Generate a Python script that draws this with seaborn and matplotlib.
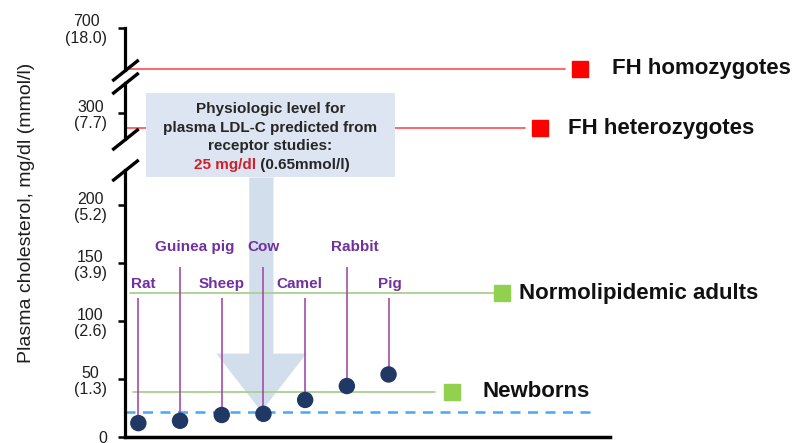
import numpy as np
import pandas as pd
import matplotlib
matplotlib.use("Agg")
import matplotlib.pyplot as plt
from matplotlib.patches import Rectangle, FancyArrow
import seaborn as sns

sns.set_style("white")
plt.rcParams['font.family'] = ['Liberation Sans', 'DejaVu Sans']

# plasma cholesterol of species, mg/dl
animals = ["Rat", "Guinea pig", "Sheep", "Cow", "Camel", "Rabbit", "Pig"]
cholesterol = [12, 14, 19, 20, 32, 44, 54]

# reference levels, mg/dl
fh_homo = 600
fh_hetero = 287
normo_adults = 124
newborns = 39
physiologic = 22

low_ticks = [0, 50, 100, 150, 200]
low_ticklabels = ["0", "50\n(1.3)", "100\n(2.6)", "150\n(3.9)", "200\n(5.2)"]
mid_ticks = [300]
mid_ticklabels = ["300\n(7.7)"]
top_ticks = [700]
top_ticklabels = ["700\n(18.0)"]

box_lines = ["Physiologic level for", "plasma LDL-C predicted from", "receptor studies:"]
box_red = "25 mg/dl"
box_rest = " (0.65mmol/l)"

W, H = 797, 443
def fbox(x0, y0, x1, y1):
  return [x0 / W, 1 - y1 / H, (x1 - x0) / W, (y1 - y0) / H]

fig = plt.figure(figsize=(W / 100, H / 100), dpi=100)
ax_top = fig.add_axes(fbox(125, 28, 610, 70))
ax_mid = fig.add_axes(fbox(125, 83, 610, 139))
ax_low = fig.add_axes(fbox(125, 170, 610, 437))

ax_top.set_ylim(597, 700)
ax_mid.set_ylim(277.6, 325.9)
ax_low.set_ylim(0, 230.5)

tick_sets = [(ax_top, top_ticks, top_ticklabels), (ax_mid, mid_ticks, mid_ticklabels),
             (ax_low, low_ticks, low_ticklabels)]
for ax, ticks, labels in tick_sets:
  ax.set_xlim(-0.32, 11.31)
  ax.set_facecolor('none')
  ax.set_xticks([])
  ax.set_yticks(ticks)
  ax.set_yticklabels(labels)
  for t in ax.get_yticklabels():
    t.set_multialignment('center')
    t.set_linespacing(1.1)
  ax.tick_params(axis='y', left=True, direction='out', length=5, width=1.8, color='black',
                 pad=8, labelsize=11.5, labelcolor='#1e1e1e')
  for s in ['top', 'right', 'bottom']:
    ax.spines[s].set_visible(False)
  ax.spines['left'].set_linewidth(2.3)
  ax.spines['left'].set_color('black')

ax_low.spines['bottom'].set_visible(True)
ax_low.spines['bottom'].set_linewidth(2.5)
ax_low.spines['bottom'].set_color('black')

# axis break marks
kw = dict(marker=[(-1, -0.8), (1, 0.8)], markersize=19, linestyle='none',
          color='k', mec='k', mew=2.4, clip_on=False)
ax_top.plot([0], [0], transform=ax_top.transAxes, **kw)
ax_mid.plot([0, 0], [0, 1], transform=ax_mid.transAxes, **kw)
ax_low.plot([0], [1], transform=ax_low.transAxes, **kw)

# big arrow pointing to physiologic level
ax_low.add_patch(FancyArrow(3 - 0.05, 224, 0, physiologic - 224, width=0.58, head_width=2.16,
                            head_length=50, length_includes_head=True,
                            color='#d3deed', lw=0, zorder=0))

# reference lines with legend-like labels
red_line = '#ff5a5a'
green_line = '#a9d18e'
refs = [
  (ax_top, fh_homo, 0.004, 0.907, 0.938, 1.004, '#ff0000', red_line, "FH homozygotes"),
  (ax_mid, fh_hetero, 0.004, 0.825, 0.856, 0.913, '#ff0000', red_line, "FH heterozygotes"),
  (ax_low, normo_adults, 0.01, 0.763, 0.777, 0.812, '#92d050', green_line, "Normolipidemic adults"),
  (ax_low, newborns, 0.016, 0.639, 0.674, 0.738, '#92d050', green_line, "Newborns"),
]
for ax, val, x0, x1, xm, xt, mcol, lcol, name in refs:
  ax.axhline(val, xmin=x0, xmax=x1, color=lcol, lw=1.3, zorder=1)
  tr = ax.get_yaxis_transform()
  ax.plot([xm], [val], transform=tr, marker='s', ms=11, color=mcol, clip_on=False, zorder=3)
  ax.text(xt, val, name, transform=tr, ha='left', va='center', fontsize=16,
          fontweight='bold', color='#111111')

ax_low.axhline(physiologic, xmin=0, xmax=0.965, color='#4aa8f0', lw=1.8,
               linestyle=(0, (4, 3)), zorder=2)

# stems, labels, dots
stem_top = [120, 147]
label_y = [132, 164]
label_dx = [0.12, 0.35, 0, 0, -0.13, 0.18, 0.04]  # small horizontal nudges
for i, v in enumerate(cholesterol):
  ax_low.vlines(i, v, stem_top[i % 2], color='#a64ca6', lw=1.2, zorder=3)
  ax_low.text(i + label_dx[i], label_y[i % 2], animals[i], ha='center', va='center',
              fontsize=11, fontweight='bold', color='#7030a0')

df = pd.DataFrame({"x": np.arange(len(animals)), "chol": cholesterol})
sns.scatterplot(data=df, x="x", y="chol", ax=ax_low, s=140, color='#1f3864',
                edgecolor='none', zorder=5, clip_on=False)
ax_low.set(xlabel='', ylabel='')

# annotation box
fig.add_artist(Rectangle((146 / W, 1 - 177 / H), (395 - 146) / W, (177 - 93) / H,
                         transform=fig.transFigure, color='#dce5f1', lw=0, zorder=2))
cx = 270.5
for k, line in enumerate(box_lines):
  fig.text(cx / W, 1 - (109 + 18.7 * k) / H, line, ha='center', va='center',
           fontsize=11, fontweight='bold', color='#262626', zorder=3)
ysplit = 1 - 165 / H
fig.text(255.7 / W, ysplit, box_red, ha='right', va='center', fontsize=11,
         fontweight='bold', color='#d0202a', zorder=3)
fig.text(255.7 / W, ysplit, box_rest, ha='left', va='center', fontsize=11,
         fontweight='bold', color='#262626', zorder=3)

fig.text(27 / W, 1 - 213 / H, "Plasma cholesterol, mg/dl (mmol/l)", rotation=90,
         ha='center', va='center', fontsize=14, color='#1e1e1e')

fig.savefig("out.png", dpi=100)
